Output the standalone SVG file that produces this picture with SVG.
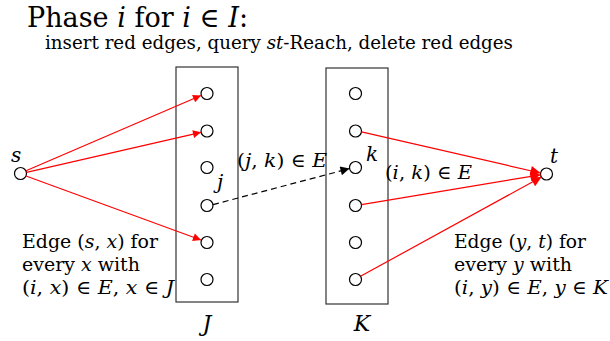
<svg xmlns="http://www.w3.org/2000/svg" width="610" height="341" viewBox="0 0 610 341">
<defs>
<marker id="ar" viewBox="0 0 10 10" refX="10" refY="5" markerWidth="14" markerHeight="8" orient="auto" markerUnits="userSpaceOnUse"><path d="M0,0 L10,5 L0,10 z" fill="#ff0000"/></marker>
<marker id="ab" viewBox="0 0 10 10" refX="10" refY="5" markerWidth="14" markerHeight="9" orient="auto" markerUnits="userSpaceOnUse"><path d="M0,0 L10,5 L0,10 z" fill="#000"/></marker>
<marker id="ar2" viewBox="0 0 10 10" refX="10" refY="5" markerWidth="18" markerHeight="10" orient="auto" markerUnits="userSpaceOnUse"><path d="M0,0 L10,5 L0,10 z" fill="#ff0000"/></marker>
<style>
text{font-family:"DejaVu Serif",serif;fill:#000}
.m{font-style:italic}
.n{fill:#fff;stroke:#000;stroke-width:1.2}
.box{fill:none;stroke:#333;stroke-width:1.2}
.red{stroke:#ff0000;stroke-width:1.2;fill:none}
</style>
</defs>
<g id="title">
<text x="27" y="27" font-size="27" textLength="221" lengthAdjust="spacingAndGlyphs">Phase <tspan class="m">i</tspan> for <tspan class="m">i</tspan> ∈ <tspan class="m">I</tspan>:</text>
<text x="45" y="48.5" font-size="18" textLength="468" lengthAdjust="spacingAndGlyphs">insert red edges, query <tspan class="m">st</tspan>-Reach, delete red edges</text>
</g>
<g id="J">
<rect class="box" x="176" y="67" width="62" height="235"/>
<circle class="n" cx="207" cy="93.5" r="6"/>
<circle class="n" cx="207" cy="131" r="6"/>
<circle class="n" cx="207" cy="167.5" r="6"/>
<circle class="n" cx="207" cy="205.5" r="6"/>
<circle class="n" cx="207" cy="242.5" r="6"/>
<circle class="n" cx="207" cy="279.5" r="6"/>
<text x="207" y="331" font-size="22" class="m" text-anchor="middle">J</text>
<text x="217" y="189" font-size="20" class="m">j</text>
</g>
<g id="K">
<rect class="box" x="326" y="68" width="62" height="236"/>
<circle class="n" cx="355.5" cy="93.5" r="6"/>
<circle class="n" cx="355.5" cy="131" r="6"/>
<circle class="n" cx="355.5" cy="167.5" r="6"/>
<circle class="n" cx="355.5" cy="205.5" r="6"/>
<circle class="n" cx="355.5" cy="242.5" r="6"/>
<circle class="n" cx="355.5" cy="279.5" r="6"/>
<text x="362" y="331" font-size="22" class="m" text-anchor="middle">K</text>
<text x="366" y="161" font-size="20" class="m">k</text>
</g>
<g id="s">
<circle class="n" cx="20.5" cy="173.5" r="6"/>
<text x="11" y="162" font-size="20" class="m">s</text>
</g>
<g id="t">
<circle class="n" cx="546.5" cy="174" r="6"/>
<text x="550" y="163" font-size="20" class="m">t</text>
</g>
<g id="connectors">
<line class="red" x1="26" y1="170.8" x2="201" y2="95.5" marker-end="url(#ar)"/>
<line class="red" x1="26.5" y1="172.3" x2="201" y2="132.3" marker-end="url(#ar)"/>
<line class="red" x1="26" y1="176" x2="201" y2="240" marker-end="url(#ar)"/>
<line x1="213" y1="204.6" x2="349.5" y2="168.6" stroke="#000" stroke-width="1.2" stroke-dasharray="6,4" marker-end="url(#ab)"/>
<line class="red" x1="361.5" y1="131.8" x2="540.5" y2="173" marker-end="url(#ar2)"/>
<line class="red" x1="361.5" y1="204.7" x2="540.5" y2="174.8" marker-end="url(#ar2)"/>
<line class="red" x1="360.5" y1="276.3" x2="541.5" y2="177" marker-end="url(#ar2)"/>
</g>
<g id="labels">
<text x="237" y="167" font-size="19" textLength="90" lengthAdjust="spacingAndGlyphs">(<tspan class="m">j</tspan>, <tspan class="m">k</tspan>) ∈ <tspan class="m">E</tspan></text>
<text x="385" y="179" font-size="19" textLength="87" lengthAdjust="spacingAndGlyphs">(<tspan class="m">i</tspan>, <tspan class="m">k</tspan>) ∈ <tspan class="m">E</tspan></text>
<text x="22" y="247.5" font-size="19" textLength="136" lengthAdjust="spacingAndGlyphs">Edge (<tspan class="m">s</tspan>, <tspan class="m">x</tspan>) for</text>
<text x="22" y="270.5" font-size="19" textLength="118" lengthAdjust="spacingAndGlyphs">every <tspan class="m">x</tspan> with</text>
<text x="22" y="293.5" font-size="19" textLength="152" lengthAdjust="spacingAndGlyphs">(<tspan class="m">i</tspan>, <tspan class="m">x</tspan>) ∈ <tspan class="m">E</tspan>, <tspan class="m">x</tspan> ∈ <tspan class="m">J</tspan></text>
<text x="454" y="247.5" font-size="19" textLength="132" lengthAdjust="spacingAndGlyphs">Edge (<tspan class="m">y</tspan>, <tspan class="m">t</tspan>) for</text>
<text x="454" y="270.5" font-size="19" textLength="118" lengthAdjust="spacingAndGlyphs">every <tspan class="m">y</tspan> with</text>
<text x="454" y="293.5" font-size="19" textLength="154" lengthAdjust="spacingAndGlyphs">(<tspan class="m">i</tspan>, <tspan class="m">y</tspan>) ∈ <tspan class="m">E</tspan>, <tspan class="m">y</tspan> ∈ <tspan class="m">K</tspan></text>
</g>
</svg>
